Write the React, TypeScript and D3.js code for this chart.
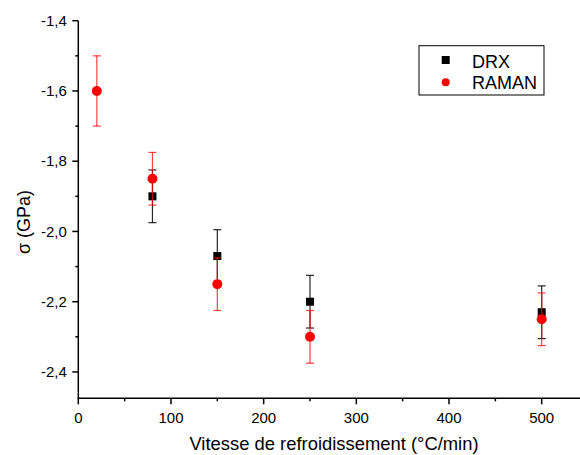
import React from "react";
import * as d3 from "d3";

const drxX = [80, 150, 250, 500];
const drxY = [-1.9, -2.07, -2.2, -2.23];
const drxErr = [0.075, 0.075, 0.075, 0.075];

const ramanX = [20, 80, 150, 250, 500];
const ramanY = [-1.6, -1.85, -2.15, -2.3, -2.25];
const ramanErr = [0.1, 0.075, 0.075, 0.075, 0.075];

const xTicks = [0, 100, 200, 300, 400, 500];
const xMinor = [50, 150, 250, 350, 450, 550];
const yTicks = [-1.4, -1.6, -1.8, -2.0, -2.2, -2.4];
const yMinor = [-1.5, -1.7, -1.9, -2.1, -2.3];

const W = 580;
const H = 455;
const font = "'Liberation Sans', Arial, sans-serif";

export default function App() {
  const x = d3.scaleLinear().domain([0, 500]).range([78.3, 541.7]);
  const y = d3.scaleLinear().domain([-1.4, -2.475]).range([20.7, 398.3]);
  const fmt = (v: number) => v.toFixed(1).replace(".", ",");
  const x0 = x(0);
  const yb = y(-2.475);
  const cap = 4;

  return (
    <svg width={W} height={H} style={{ position: "absolute", left: 0, top: 0, background: "#fff" }} fontFamily={font}>
      {/* axes */}
      <line x1={x0} x2={x0} y1={y(-1.4)} y2={yb + 0.75} stroke="#000" strokeWidth={1.5} />
      <line x1={x0} x2={W + 5} y1={yb} y2={yb} stroke="#000" strokeWidth={1.5} />
      {yTicks.map((t) => (
        <g key={"yt" + t}>
          <line x1={x0 - 6} x2={x0} y1={y(t)} y2={y(t)} stroke="#000" strokeWidth={1.5} />
          <text x={x0 - 11.5} y={y(t)} dy="0.35em" textAnchor="end" fontSize={15} fill="#000">
            {fmt(t)}
          </text>
        </g>
      ))}
      {yMinor.map((t) => (
        <line key={"ym" + t} x1={x0 - 3} x2={x0} y1={y(t)} y2={y(t)} stroke="#000" strokeWidth={1.5} />
      ))}
      {xTicks.map((t) => (
        <g key={"xt" + t}>
          <line x1={x(t)} x2={x(t)} y1={yb} y2={yb + 6} stroke="#000" strokeWidth={1.5} />
          <text x={x(t)} y={422.5} textAnchor="middle" fontSize={15} fill="#000">
            {t}
          </text>
        </g>
      ))}
      {xMinor.map((t) => (
        <line key={"xm" + t} x1={x(t)} x2={x(t)} y1={yb} y2={yb + 3} stroke="#000" strokeWidth={1.5} />
      ))}
      <text x={334} y={450} textAnchor="middle" fontSize={18.4} fill="#000">
        Vitesse de refroidissement (°C/min)
      </text>
      <text transform="translate(30,222) rotate(-90)" textAnchor="middle" fontSize={18} fill="#000">
        σ (GPa)
      </text>

      {/* DRX */}
      {drxX.map((v, i) => (
        <g key={"de" + i} stroke="#000" strokeWidth={1.2} strokeOpacity={0.85}>
          <line x1={x(v)} x2={x(v)} y1={y(drxY[i] + drxErr[i])} y2={y(drxY[i] - drxErr[i])} />
          <line x1={x(v) - cap} x2={x(v) + cap} y1={y(drxY[i] + drxErr[i])} y2={y(drxY[i] + drxErr[i])} />
          <line x1={x(v) - cap} x2={x(v) + cap} y1={y(drxY[i] - drxErr[i])} y2={y(drxY[i] - drxErr[i])} />
        </g>
      ))}
      {drxX.map((v, i) => (
        <rect key={"dm" + i} x={x(v) - 4} y={y(drxY[i]) - 4} width={8} height={8} fill="#000" />
      ))}

      {/* RAMAN */}
      {ramanX.map((v, i) => (
        <g key={"re" + i} stroke="#ff0000" strokeWidth={1.2} strokeOpacity={0.75}>
          <line x1={x(v)} x2={x(v)} y1={y(ramanY[i] + ramanErr[i])} y2={y(ramanY[i] - ramanErr[i])} />
          <line x1={x(v) - cap} x2={x(v) + cap} y1={y(ramanY[i] + ramanErr[i])} y2={y(ramanY[i] + ramanErr[i])} />
          <line x1={x(v) - cap} x2={x(v) + cap} y1={y(ramanY[i] - ramanErr[i])} y2={y(ramanY[i] - ramanErr[i])} />
        </g>
      ))}
      {ramanX.map((v, i) => (
        <circle key={"rm" + i} cx={x(v)} cy={y(ramanY[i])} r={5} fill="#ff0000" />
      ))}

      {/* legend */}
      <rect x={419} y={45.7} width={125} height={49.3} fill="#fff" stroke="#000" strokeWidth={1} />
      <rect x={441.7} y={56} width={8} height={8} fill="#000" />
      <text x={472} y={67.5} fontSize={18} fill="#000">DRX</text>
      <circle cx={445.7} cy={82.3} r={4} fill="#ff0000" />
      <text x={472} y={88.8} fontSize={18} fill="#000">RAMAN</text>
    </svg>
  );
}
